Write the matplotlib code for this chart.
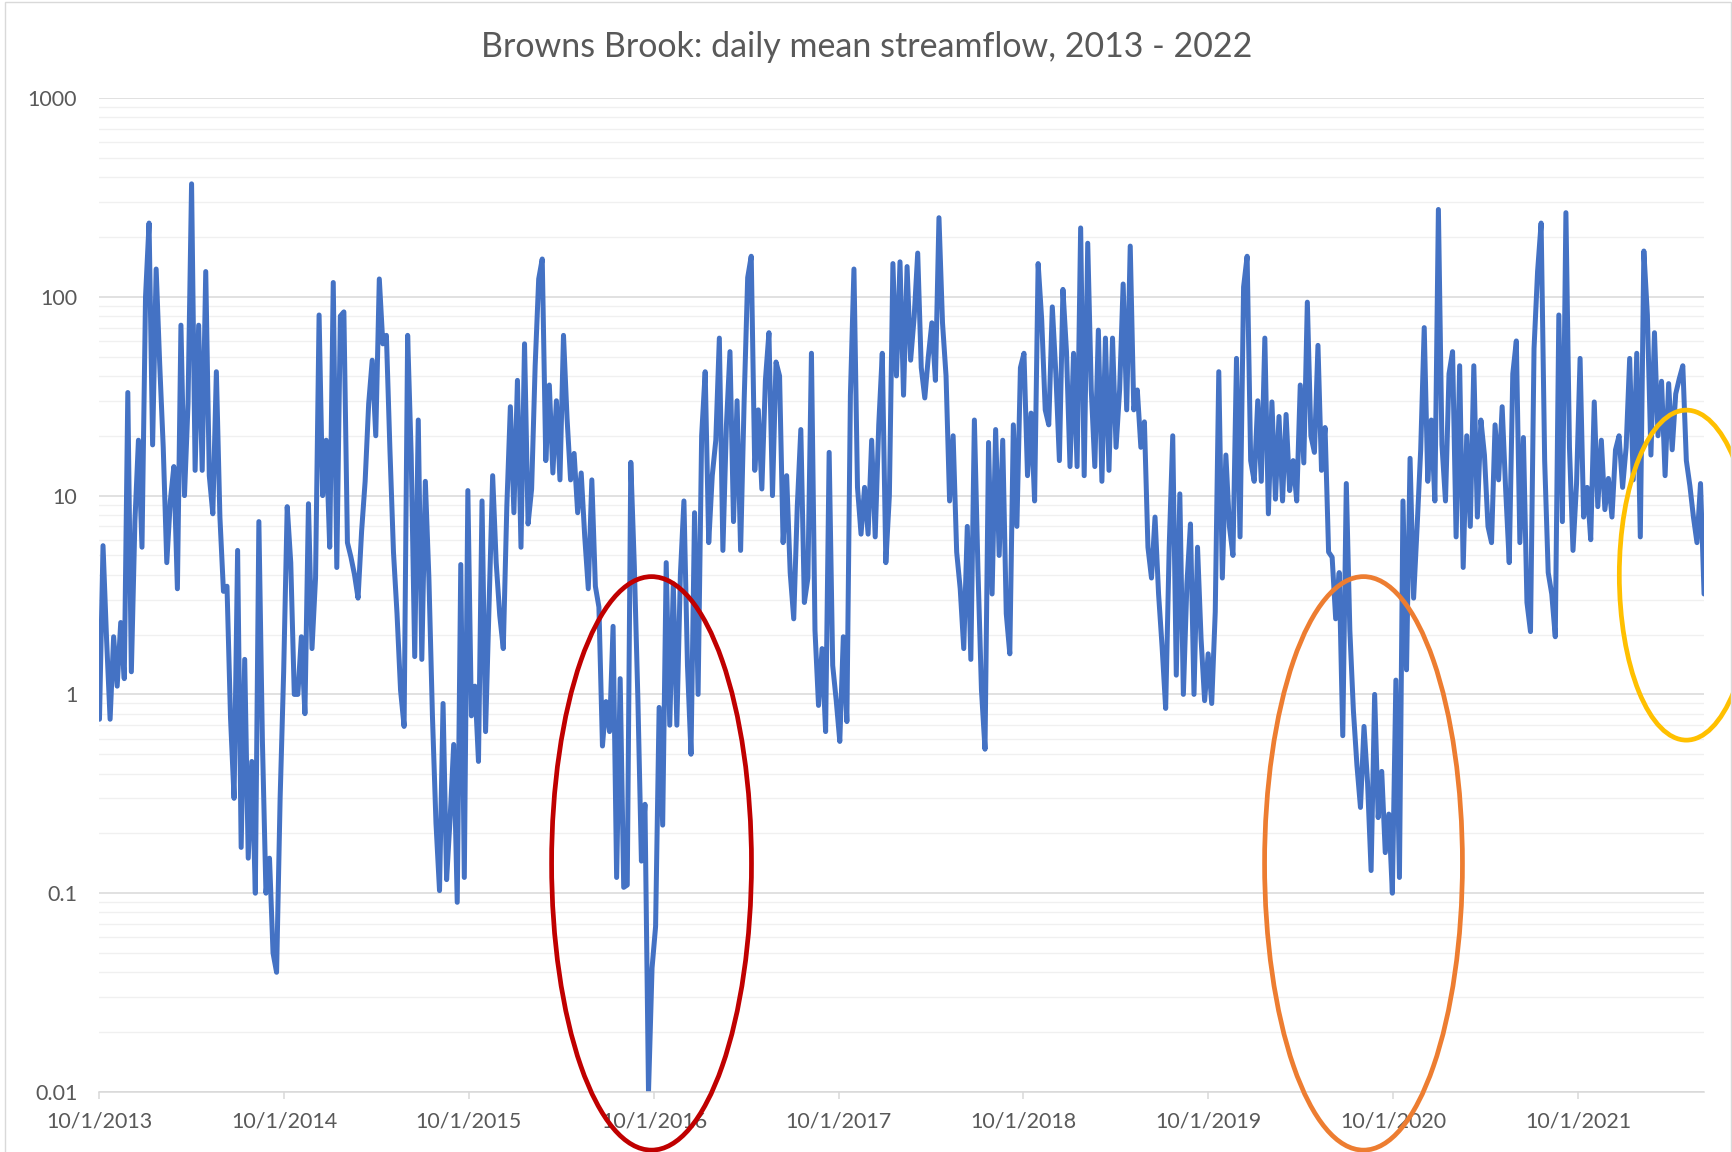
import numpy as np
import pandas as pd
import matplotlib
matplotlib.use("Agg")
import matplotlib.pyplot as plt
import matplotlib.dates as mdates
from matplotlib.patches import Ellipse, Rectangle
from matplotlib.ticker import FixedLocator, LogLocator, FuncFormatter, NullFormatter
from matplotlib.transforms import blended_transform_factory

plt.rcParams['font.family'] = ['Lato', 'DejaVu Sans']

# weekly readings (cfs), first one on 10/1/2013, 52 per block
flow_wy2014 = [0.75, 5.6, 1.9, 0.75, 1.95, 1.1, 2.3, 1.2, 33, 1.3,
               7.4, 19, 5.5, 100, 235, 18, 138, 46, 17.5, 4.6,
               9.4, 14, 3.4, 72, 10, 29, 370, 13.4, 72, 13.4,
               134, 12.6, 8.1, 42, 7.8, 3.3, 3.5, 0.76, 0.3, 5.3,
               0.17, 1.5, 0.15, 0.46, 0.1, 7.4, 0.58, 0.1, 0.15, 0.05,
               0.04, 0.3]
flow_wy2015 = [1.3, 8.8, 4.6, 1.0, 1.0, 1.95, 0.8, 9.1, 1.7, 3.85,
               81, 10, 19, 5.5, 118, 4.35, 80, 84, 5.8, 4.9,
               4.0, 3.05, 6.6, 11.8, 29, 48, 20, 123, 58, 64,
               17, 5.2, 2.55, 1.05, 0.69, 64, 16, 1.55, 24, 1.5,
               11.8, 3.85, 0.78, 0.225, 0.103, 0.9, 0.117, 0.24, 0.56, 0.09,
               4.5, 0.12]
flow_wy2016 = [10.6, 0.78, 1.1, 0.46, 9.4, 0.65, 2.8, 12.6, 4.6, 2.5,
               1.7, 8.8, 28, 8.2, 38, 5.5, 58, 7.2, 10.8, 45,
               123, 155, 15, 36, 13, 30, 12, 64, 24.6, 12,
               16.3, 8.2, 13, 6.2, 3.4, 12, 3.5, 2.75, 0.55, 0.92,
               0.65, 2.2, 0.12, 1.2, 0.107, 0.11, 14.7, 4.4, 0.95, 0.145,
               0.28, 0.01]
flow_wy2017 = [0.042, 0.068, 0.86, 0.22, 4.6, 0.7, 3.6, 0.7, 4.0, 9.4,
               1.4, 0.5, 8.2, 1.0, 20, 42, 5.8, 12.6, 19, 62,
               5.3, 22.7, 53, 7.4, 30, 5.3, 30, 125, 160, 13.4,
               27, 10.8, 38, 66, 10, 47, 40, 5.8, 12.6, 4.1,
               2.4, 8.8, 21.5, 2.9, 3.85, 52, 2.1, 0.88, 1.7, 0.65,
               16.5, 1.4]
flow_wy2018 = [0.93, 0.58, 1.95, 0.73, 32, 138, 11, 6.4, 11, 6.4,
               19, 6.2, 22.7, 52, 4.6, 10, 147, 40, 150, 32,
               142, 48, 79, 166, 44, 31, 50, 74, 38, 250,
               74, 40, 9.4, 20, 5.2, 3.4, 1.7, 7, 1.5, 24,
               4.3, 1.05, 0.53, 18.5, 3.2, 21.5, 5, 19, 2.55, 1.6,
               22.7, 7]
flow_wy2019 = [44, 52, 12.6, 26, 9.4, 147, 77, 27, 22.7, 89,
               41, 15, 109, 53, 14, 52, 14, 222, 12.6, 186,
               34, 14, 68, 11.8, 62, 13.4, 62, 17.5, 34, 116,
               27, 180, 27, 34, 17.5, 23.5, 5.5, 3.85, 7.8, 3.2,
               1.73, 0.85, 5.5, 20, 1.25, 10.2, 1.0, 3.6, 7.2, 1.0,
               5.5, 1.9]
flow_wy2020 = [0.93, 1.6, 0.9, 2.6, 42, 3.85, 16, 7, 5, 49,
               6.2, 112, 160, 15, 11.8, 30, 11.8, 62, 8.1, 29.6,
               9.6, 25, 9.4, 25.6, 10.6, 15, 9.4, 36, 14.6, 94,
               20, 16.5, 57, 13.4, 22, 5.2, 4.9, 2.4, 4.1, 0.62,
               11.5, 2.1, 0.83, 0.44, 0.27, 0.69, 0.36, 0.13, 1.0, 0.24,
               0.41, 0.16]
flow_wy2021 = [0.25, 0.1, 1.18, 0.12, 9.4, 1.33, 15.4, 3.05, 7, 17,
               70, 11.8, 24, 9.4, 275, 18, 9.4, 41, 53, 6.2,
               45, 4.35, 20, 7, 45, 7.8, 24, 16, 7, 5.8,
               22.7, 12, 28, 10.6, 4.6, 41, 60, 5.8, 19.6, 2.9,
               2.07, 55, 134, 235, 15, 4.1, 3.2, 1.95, 81, 7.4,
               265, 17.5]
flow_wy2022 = [5.3, 11.5, 49, 7.8, 11, 6, 29.6, 8.8, 19, 8.5,
               12.2, 7.8, 17, 20, 11, 17.5, 49, 12, 52, 6.2,
               170, 81, 16, 66, 20, 37.6, 12.6, 36.6, 17, 32.5,
               38.7, 45, 15, 11.2, 7.8, 5.8, 11.5, 3.2]

start_date = "2013-10-01"
title = "Browns Brook: daily mean streamflow, 2013 - 2022"
y_ticks = [0.01, 0.1, 1, 10, 100, 1000]
x_tick_dates = ["2013-10-01", "2014-10-01", "2015-10-01", "2016-10-01", "2017-10-01",
                "2018-10-01", "2019-10-01", "2020-10-01", "2021-10-01"]
x_tick_labels = ["10/1/2013", "10/1/2014", "10/1/2015", "10/1/2016", "10/1/2017",
                 "10/1/2018", "10/1/2019", "10/1/2020", "10/1/2021"]

# circled periods: centre date, width in days, centre/height as fraction of plot height, colour
circle_dates = ["2016-09-26", "2020-08-03", "2022-05-03"]
circle_days = [395, 391, 265]
circle_mid = [0.23, 0.23, 0.52]
circle_height = [0.577, 0.577, 0.332]
circle_colors = ["#C00000", "#ED7D31", "#FFC000"]

flow = (flow_wy2014 + flow_wy2015 + flow_wy2016 + flow_wy2017 + flow_wy2018
        + flow_wy2019 + flow_wy2020 + flow_wy2021 + flow_wy2022)
dates = pd.date_range(start_date, periods=len(flow), freq="7D")

fig = plt.figure(figsize=(17.33, 11.52), dpi=100)
ax = fig.add_axes([0.0574, 0.0521, 0.9259, 0.8628])

ax.plot(dates, flow, color="#4472C4", lw=3.6, solid_joinstyle="round",
        solid_capstyle="round", zorder=2)

ax.set_yscale("log")
ax.set_ylim(0.01, 1000)
ax.set_xlim(dates[0], dates[-1])
ax.yaxis.set_major_locator(FixedLocator(y_ticks))
ax.yaxis.set_major_formatter(FuncFormatter(lambda v, p: f"{v:g}"))
ax.yaxis.set_minor_locator(LogLocator(base=10, subs=np.arange(2, 10)))
ax.yaxis.set_minor_formatter(NullFormatter())
ax.grid(which="major", axis="y", color="#d9d9d9", lw=1.1, zorder=0)
ax.grid(which="minor", axis="y", color="#f0f0f0", lw=1.0, zorder=0)
ax.grid(which="major", axis="x", visible=False)

ax.set_xticks(pd.to_datetime(x_tick_dates))
ax.set_xticklabels(x_tick_labels)
ax.tick_params(axis="y", which="both", length=0, pad=16, labelsize=15.5, labelcolor="#595959")
ax.tick_params(axis="x", length=5, width=1.1, color="#d9d9d9", pad=9,
               labelsize=15.5, labelcolor="#595959")
for side in ["top", "right", "left"]:
    ax.spines[side].set_visible(False)
ax.spines["bottom"].set_color("#d9d9d9")
ax.spines["bottom"].set_linewidth(1.1)

fig.text(0.5, 1 - 47 / 1152, title, ha="center", va="center", fontsize=24.5, color="#595959")

trans = blended_transform_factory(ax.transData, ax.transAxes)
for d, w, m, h, c in zip(circle_dates, circle_days, circle_mid, circle_height, circle_colors):
    e = Ellipse((mdates.date2num(pd.Timestamp(d)), m), w, h, transform=trans,
                fill=False, ec=c, lw=3.4, clip_on=False, zorder=3)
    ax.add_patch(e)

fig.add_artist(Rectangle((0.003, -0.02), 0.996, 1.018, transform=fig.transFigure,
                         fill=False, ec="#d9d9d9", lw=1.0))

fig.savefig("out.png", dpi=100)
